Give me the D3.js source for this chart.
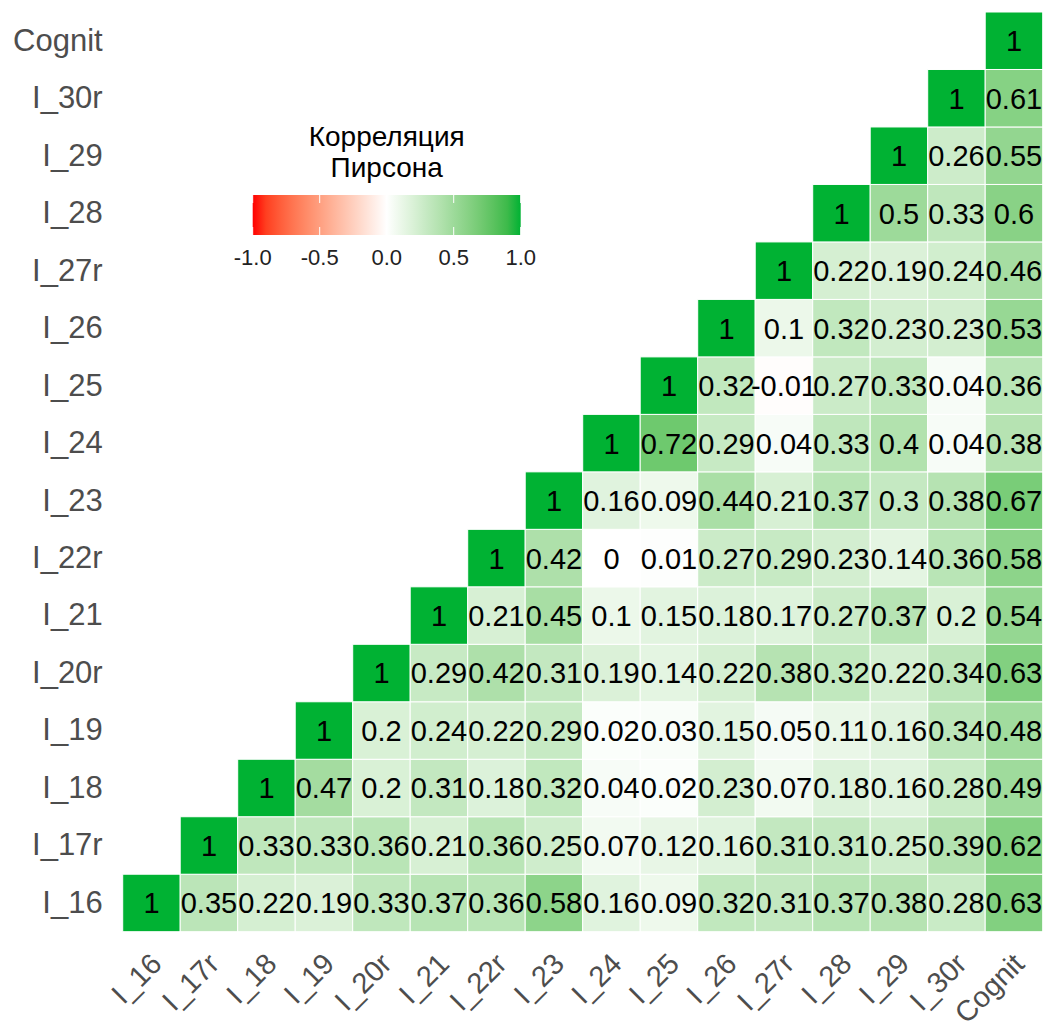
<!DOCTYPE html>
<html>
<head>
<meta charset="utf-8">
<script src="https://cdn.jsdelivr.net/npm/d3@7"></script>
<style>
  body { margin: 0; background: #fff; }
  svg { display: block; font-family: "Liberation Sans", Arial, sans-serif; }
</style>
</head>
<body>
<svg id="chart" width="1048" height="1028"></svg>
<script>
// Variables (bottom-to-top on y, left-to-right on x)
const vars = ['I_16', 'I_17r', 'I_18', 'I_19', 'I_20r', 'I_21', 'I_22r', 'I_23', 'I_24', 'I_25', 'I_26', 'I_27r', 'I_28', 'I_29', 'I_30r', 'Cognit']

// Each row holds the correlations from its own column to the last (Cognit)
const row_I_16 = [1, 0.35, 0.22, 0.19, 0.33, 0.37, 0.36, 0.58, 0.16, 0.09, 0.32, 0.31, 0.37, 0.38, 0.28, 0.63]
const row_I_17r = [1, 0.33, 0.33, 0.36, 0.21, 0.36, 0.25, 0.07, 0.12, 0.16, 0.31, 0.31, 0.25, 0.39, 0.62]
const row_I_18 = [1, 0.47, 0.2, 0.31, 0.18, 0.32, 0.04, 0.02, 0.23, 0.07, 0.18, 0.16, 0.28, 0.49]
const row_I_19 = [1, 0.2, 0.24, 0.22, 0.29, 0.02, 0.03, 0.15, 0.05, 0.11, 0.16, 0.34, 0.48]
const row_I_20r = [1, 0.29, 0.42, 0.31, 0.19, 0.14, 0.22, 0.38, 0.32, 0.22, 0.34, 0.63]
const row_I_21 = [1, 0.21, 0.45, 0.1, 0.15, 0.18, 0.17, 0.27, 0.37, 0.2, 0.54]
const row_I_22r = [1, 0.42, 0, 0.01, 0.27, 0.29, 0.23, 0.14, 0.36, 0.58]
const row_I_23 = [1, 0.16, 0.09, 0.44, 0.21, 0.37, 0.3, 0.38, 0.67]
const row_I_24 = [1, 0.72, 0.29, 0.04, 0.33, 0.4, 0.04, 0.38]
const row_I_25 = [1, 0.32, -0.01, 0.27, 0.33, 0.04, 0.36]
const row_I_26 = [1, 0.1, 0.32, 0.23, 0.23, 0.53]
const row_I_27r = [1, 0.22, 0.19, 0.24, 0.46]
const row_I_28 = [1, 0.5, 0.33, 0.6]
const row_I_29 = [1, 0.26, 0.55]
const row_I_30r = [1, 0.61]
const row_Cognit = [1]

const rows = [row_I_16, row_I_17r, row_I_18, row_I_19, row_I_20r, row_I_21, row_I_22r, row_I_23,
  row_I_24, row_I_25, row_I_26, row_I_27r, row_I_28, row_I_29, row_I_30r, row_Cognit]

// Legend
const legendTitle = ['Корреляция', 'Пирсона']
const legendTicks = [-1, -0.5, 0, 0.5, 1]

// Build cells
const cells = []
rows.forEach((vals, i) => {
  vals.forEach((v, k) => {
    cells.push({ row: vars[i], col: vars[i + k], value: v })
  })
})

const svg = d3.select('#chart')

const grid = { left: 122.7, right: 1042.7, top: 12, bottom: 931.7 }

const x = d3.scaleBand().domain(vars).range([grid.left, grid.right])
const y = d3.scaleBand().domain(vars).range([grid.bottom, grid.top])

const color = d3.scaleLinear()
  .domain([-1, 0, 1])
  .range(['#FF0000', '#FFFFFF', '#00B233'])
  .interpolate(d3.interpolateLab)

// Tiles
svg.append('g')
  .selectAll('rect')
  .data(cells)
  .join('rect')
  .attr('x', d => x(d.col))
  .attr('y', d => y(d.row))
  .attr('width', x.bandwidth())
  .attr('height', y.bandwidth())
  .attr('fill', d => color(d.value))
  .attr('stroke', '#fff')
  .attr('stroke-width', 1)

// Cell labels
svg.append('g')
  .selectAll('text')
  .data(cells)
  .join('text')
  .attr('x', d => x(d.col) + x.bandwidth() / 2)
  .attr('y', d => y(d.row) + y.bandwidth() / 2)
  .attr('dy', '0.36em')
  .attr('text-anchor', 'middle')
  .style('font-size', '29px')
  .style('fill', '#000')
  .text(d => String(d.value))

// Y axis
const yAxis = svg.append('g')
  .attr('transform', `translate(${grid.left},0)`)
  .call(d3.axisLeft(y).tickSize(0).tickPadding(20))
yAxis.select('.domain').remove()
yAxis.selectAll('text')
  .style('font-size', '31px')
  .style('font-family', '"Liberation Sans", Arial, sans-serif')
  .style('fill', '#4D4D4D')

// X axis, labels rotated 45 degrees
const xAxis = svg.append('g')
  .attr('transform', `translate(0,${grid.bottom})`)
  .call(d3.axisBottom(x).tickSize(0))
xAxis.select('.domain').remove()
xAxis.selectAll('text')
  .attr('x', 0)
  .attr('y', 0)
  .attr('dy', 0)
  .attr('text-anchor', 'end')
  .attr('transform', 'translate(12,34) rotate(-45)')
  .style('font-size', '29px')
  .style('font-family', '"Liberation Sans", Arial, sans-serif')
  .style('fill', '#4D4D4D')

// Legend
const legend = svg.append('g')
const lx = d3.scaleLinear().domain([-1, 1]).range([252.7, 520.7])
const barTop = 195
const barHeight = 40

legend.selectAll('text.title')
  .data(legendTitle)
  .join('text')
  .attr('class', 'title')
  .attr('x', (lx(-1) + lx(1)) / 2)
  .attr('y', (d, i) => 146 + i * 31)
  .attr('text-anchor', 'middle')
  .style('font-size', '28px')
  .style('fill', '#000')
  .text(d => d)

const defs = svg.append('defs')
const grad = defs.append('linearGradient')
  .attr('id', 'corrGrad')
  .attr('x1', '0%').attr('x2', '100%')
  .attr('y1', '0%').attr('y2', '0%')
grad.selectAll('stop')
  .data(d3.range(0, 1.0001, 0.05))
  .join('stop')
  .attr('offset', d => `${d * 100}%`)
  .attr('stop-color', d => color(-1 + 2 * d))

legend.append('rect')
  .attr('x', lx(-1))
  .attr('y', barTop)
  .attr('width', lx(1) - lx(-1))
  .attr('height', barHeight)
  .attr('fill', 'url(#corrGrad)')

// White tick notches on the colour bar
legend.selectAll('line.tick-top')
  .data(legendTicks)
  .join('line')
  .attr('class', 'tick-top')
  .attr('x1', d => lx(d)).attr('x2', d => lx(d))
  .attr('y1', barTop).attr('y2', barTop + barHeight / 5)
  .attr('stroke', '#fff')
  .attr('stroke-width', 1)
legend.selectAll('line.tick-bot')
  .data(legendTicks)
  .join('line')
  .attr('class', 'tick-bot')
  .attr('x1', d => lx(d)).attr('x2', d => lx(d))
  .attr('y1', barTop + barHeight).attr('y2', barTop + barHeight * 4 / 5)
  .attr('stroke', '#fff')
  .attr('stroke-width', 1)

const fmt = d3.format('.1f')
legend.selectAll('text.lab')
  .data(legendTicks)
  .join('text')
  .attr('class', 'lab')
  .attr('x', d => lx(d))
  .attr('y', 265)
  .attr('text-anchor', 'middle')
  .style('font-size', '22px')
  .style('fill', '#222')
  .text(d => fmt(d).replace('\u2212', '-'))
</script>
</body>
</html>
